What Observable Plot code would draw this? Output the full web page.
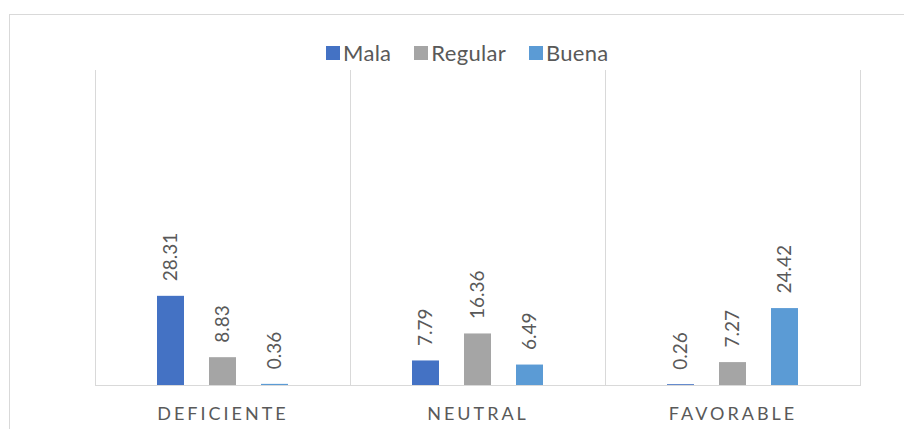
<!DOCTYPE html>
<html>
<head>
<meta charset="utf-8">
<script src="https://cdn.jsdelivr.net/npm/d3@7"></script>
<script src="https://cdn.jsdelivr.net/npm/@observablehq/plot@0.6"></script>
<style>
  html, body { margin: 0; padding: 0; background: #fff; }
  #wrap { position: relative; width: 904px; height: 429px; overflow: hidden; font-family: Lato, "Open Sans", sans-serif; }
  #border { position: absolute; left: 9px; top: 14px; width: 900px; height: 420px; border-top: 1px solid #d9d9d9; border-left: 1px solid #d9d9d9; }
  #legend { position: absolute; left: 326px; top: 39px; display: flex; align-items: center; font-size: 22px; letter-spacing: 0.3px; color: #595959; }
  #legend .item { display: flex; align-items: center; margin-right: 23px; }
  #legend .sw { width: 14px; height: 14px; margin-right: 3px; }
  #chart { position: absolute; left: 0; top: 0; }
  g[aria-label="fx-axis tick label"] text { letter-spacing: 3px; font-size: 18px; }
</style>
</head>
<body>
<div id="wrap">
  <div id="border"></div>
  <div id="chart"></div>
  <div id="legend"></div>
</div>
<script>
const categories = ["DEFICIENTE", "NEUTRAL", "FAVORABLE"];
const series = ["Mala", "Regular", "Buena"];
const mala = [28.31, 7.79, 0.26];
const regular = [8.83, 16.36, 7.27];
const buena = [0.36, 6.49, 24.42];
const colors = ["#4472C4", "#A5A5A5", "#5B9BD5"];

const values = [mala, regular, buena];
const data = [];
categories.forEach((c, i) => {
  series.forEach((s, j) => data.push({category: c, series: s, value: values[j][i]}));
});

const chart = Plot.plot({
  width: 904,
  height: 429,
  marginLeft: 94,
  marginRight: 43,
  marginTop: 70,
  marginBottom: 44,
  style: {fontFamily: "Lato, 'Open Sans', sans-serif", color: "#595959", background: "transparent"},
  fx: {domain: categories, padding: 0, label: null, axis: "bottom", tickSize: 0, tickPadding: 22},
  x: {domain: series, paddingInner: 0.49, paddingOuter: 1.16, axis: null},
  y: {domain: [0, 100], axis: null},
  color: {domain: series, range: colors},
  marks: [
    Plot.frame({anchor: "left", stroke: "#d9d9d9", strokeOpacity: 1}),
    Plot.frame({anchor: "right", stroke: "#d9d9d9", strokeOpacity: 1}),
    Plot.barY(data, {fx: "category", x: "series", y: "value", fill: "series"}),
    Plot.ruleY([0], {stroke: "#d9d9d9"}),
    Plot.text(data, {
      fx: "category", x: "series", y: "value",
      text: d => d.value.toFixed(2),
      rotate: -90, textAnchor: "start", lineAnchor: "middle",
      dy: -15, fontSize: 19, fill: "#595959"
    })
  ]
});
document.getElementById("chart").appendChild(chart);

const legend = document.getElementById("legend");
series.forEach((s, i) => {
  const item = document.createElement("div");
  item.className = "item";
  const sw = document.createElement("span");
  sw.className = "sw";
  sw.style.background = colors[i];
  const t = document.createElement("span");
  t.textContent = s;
  item.appendChild(sw);
  item.appendChild(t);
  legend.appendChild(item);
});
</script>
</body>
</html>
